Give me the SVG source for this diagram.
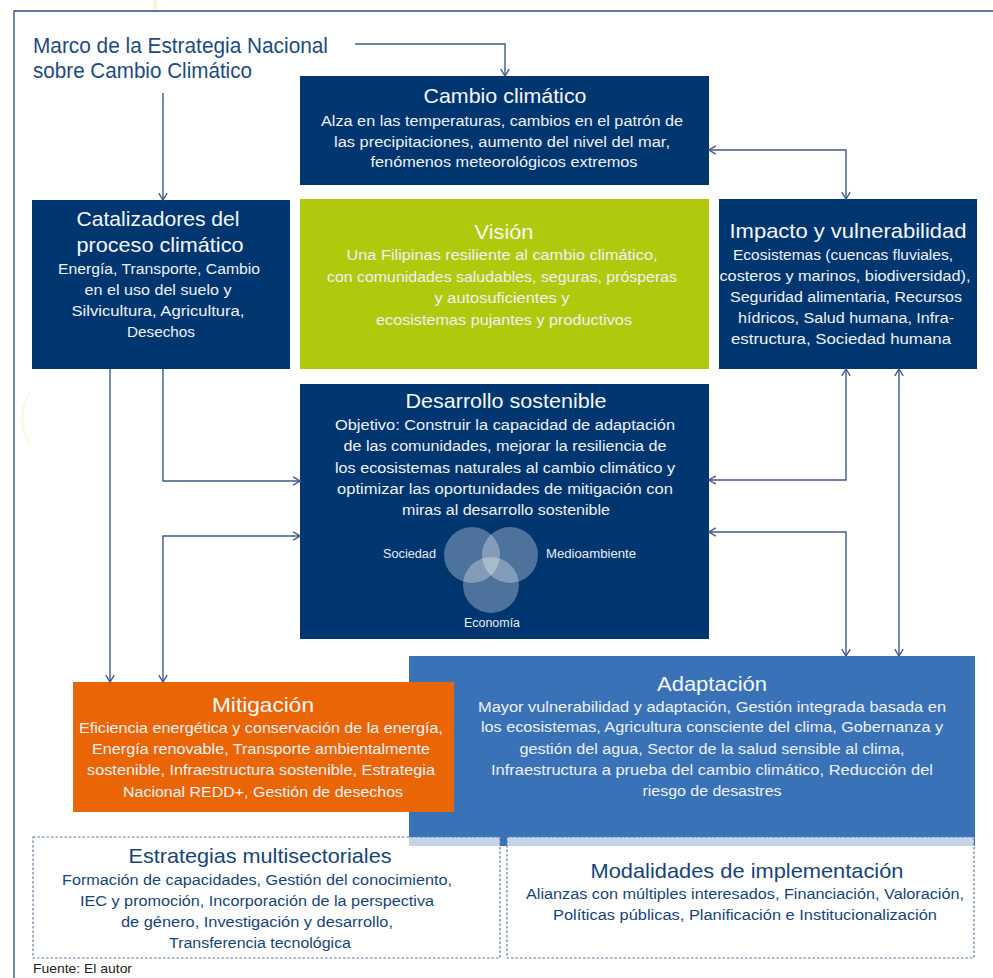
<svg xmlns="http://www.w3.org/2000/svg" width="993" height="978" viewBox="0 0 993 978">
<style>
  text { font-family: "Liberation Sans", Arial, sans-serif; }
  .ttl { font-size: 21px; fill: #f4f6f8; text-anchor: middle; }
  .bd { font-size: 15.5px; fill: #eef1f5; text-anchor: middle; }
  .dttl { font-size: 21px; fill: #174478; text-anchor: middle; }
  .dbd { font-size: 15.5px; fill: #174478; text-anchor: middle; }
  .venn { font-size: 12.5px; fill: #e8edf3; }
  .navy { fill: #003670; }
  .conn { fill: none; stroke: #40598b; stroke-width: 1.4; }
  .dash { fill: #ffffff; fill-opacity: 0.7; stroke: #5c79a6; stroke-width: 1.2; stroke-dasharray: 2.5 2; }
</style>
<defs>
  <marker id="ah" viewBox="0 0 10 10" refX="9.3" refY="5" markerWidth="10" markerHeight="10" markerUnits="userSpaceOnUse" orient="auto-start-reverse">
    <path d="M2.5,0.8 L9.3,5 L2.5,9.2" fill="none" stroke="#40598b" stroke-width="1.4"/>
  </marker>
</defs>
<rect width="993" height="978" fill="#ffffff"/>
<rect x="153" y="0" width="4" height="11" fill="#f3f6d8"/>
<path d="M30,392 Q14,418 30,444" fill="none" stroke="#f9fae8" stroke-width="3"/>
<path d="M14,978 V11 H993" fill="none" stroke="#274a7d" stroke-width="1.3"/>

<g id="title">
  <text x="33" y="53" font-size="22" fill="#1d4a80" textLength="295" lengthAdjust="spacingAndGlyphs">Marco de la Estrategia Nacional</text>
  <text x="33" y="78" font-size="22" fill="#1d4a80" textLength="219" lengthAdjust="spacingAndGlyphs">sobre Cambio Climático</text>
</g>

<g id="cambio">
  <rect class="navy" x="300" y="76" width="409" height="109"/>
  <text class="ttl" x="505" y="103" textLength="163" lengthAdjust="spacingAndGlyphs">Cambio climático</text>
  <text class="bd" x="502" y="126" textLength="362" lengthAdjust="spacingAndGlyphs">Alza en las temperaturas, cambios en el patrón de</text>
  <text class="bd" x="502" y="147" textLength="336" lengthAdjust="spacingAndGlyphs">las precipitaciones, aumento del nivel del mar,</text>
  <text class="bd" x="504" y="167" textLength="267" lengthAdjust="spacingAndGlyphs">fenómenos meteorológicos extremos</text>
</g>

<g id="catalizadores">
  <rect class="navy" x="32" y="200" width="258" height="169"/>
  <text class="ttl" x="158" y="226" textLength="163" lengthAdjust="spacingAndGlyphs">Catalizadores del</text>
  <text class="ttl" x="160" y="252" textLength="167" lengthAdjust="spacingAndGlyphs">proceso climático</text>
  <text class="bd" x="159" y="274" textLength="202" lengthAdjust="spacingAndGlyphs">Energía, Transporte, Cambio</text>
  <text class="bd" x="158" y="295" textLength="147" lengthAdjust="spacingAndGlyphs">en el uso del suelo y</text>
  <text class="bd" x="158" y="316" textLength="173" lengthAdjust="spacingAndGlyphs">Silvicultura, Agricultura,</text>
  <text class="bd" x="161" y="337" textLength="68" lengthAdjust="spacingAndGlyphs">Desechos</text>
</g>

<g id="vision">
  <rect x="300" y="199" width="409" height="170" fill="#b1c90d"/>
  <text class="ttl" x="504" y="239" textLength="59" lengthAdjust="spacingAndGlyphs">Visión</text>
  <text class="bd" x="502" y="260" textLength="311" lengthAdjust="spacingAndGlyphs">Una Filipinas resiliente al cambio climático,</text>
  <text class="bd" x="502" y="282" textLength="350" lengthAdjust="spacingAndGlyphs">con comunidades saludables, seguras, prósperas</text>
  <text class="bd" x="502" y="303" textLength="135" lengthAdjust="spacingAndGlyphs">y autosuficientes y</text>
  <text class="bd" x="504" y="325" textLength="256" lengthAdjust="spacingAndGlyphs">ecosistemas pujantes y productivos</text>
</g>

<g id="impacto">
  <rect class="navy" x="719" y="199" width="258" height="170"/>
  <text class="ttl" x="848" y="238" textLength="237" lengthAdjust="spacingAndGlyphs">Impacto y vulnerabilidad</text>
  <text class="bd" x="843" y="260" textLength="220" lengthAdjust="spacingAndGlyphs">Ecosistemas (cuencas fluviales,</text>
  <text class="bd" x="845" y="281" textLength="251" lengthAdjust="spacingAndGlyphs">costeros y marinos, biodiversidad),</text>
  <text class="bd" x="846" y="302" textLength="232" lengthAdjust="spacingAndGlyphs">Seguridad alimentaria, Recursos</text>
  <text class="bd" x="846" y="323" textLength="216" lengthAdjust="spacingAndGlyphs">hídricos, Salud humana, Infra-</text>
  <text class="bd" x="841" y="344" textLength="220" lengthAdjust="spacingAndGlyphs">estructura, Sociedad humana</text>
</g>

<g id="desarrollo">
  <rect class="navy" x="300" y="384" width="409" height="255"/>
  <text class="ttl" x="506" y="408" textLength="201" lengthAdjust="spacingAndGlyphs">Desarrollo sostenible</text>
  <text class="bd" x="505" y="430" textLength="340" lengthAdjust="spacingAndGlyphs">Objetivo: Construir la capacidad de adaptación</text>
  <text class="bd" x="505" y="451" textLength="323" lengthAdjust="spacingAndGlyphs">de las comunidades, mejorar la resiliencia de</text>
  <text class="bd" x="505" y="473" textLength="340" lengthAdjust="spacingAndGlyphs">los ecosistemas naturales al cambio climático y</text>
  <text class="bd" x="505" y="494" textLength="336" lengthAdjust="spacingAndGlyphs">optimizar las oportunidades de mitigación con</text>
  <text class="bd" x="506" y="515" textLength="208" lengthAdjust="spacingAndGlyphs">miras al desarrollo sostenible</text>
  <g fill="#ffffff" fill-opacity="0.3">
    <circle cx="472" cy="555" r="28"/>
    <circle cx="510" cy="555" r="28"/>
    <circle cx="491" cy="585" r="28"/>
  </g>
  <text class="venn" x="436" y="558" text-anchor="end" textLength="53" lengthAdjust="spacingAndGlyphs">Sociedad</text>
  <text class="venn" x="546" y="558" textLength="90" lengthAdjust="spacingAndGlyphs">Medioambiente</text>
  <text class="venn" x="492" y="627" text-anchor="middle" textLength="56" lengthAdjust="spacingAndGlyphs">Economía</text>
</g>

<g id="adaptacion">
  <rect x="409" y="656" width="566" height="190" fill="#3a72b8"/>
  <text class="ttl" x="712" y="691" textLength="110" lengthAdjust="spacingAndGlyphs">Adaptación</text>
  <text class="bd" x="712" y="712" textLength="468" lengthAdjust="spacingAndGlyphs">Mayor vulnerabilidad y adaptación, Gestión integrada basada en</text>
  <text class="bd" x="712" y="732" textLength="462" lengthAdjust="spacingAndGlyphs">los ecosistemas, Agricultura consciente del clima, Gobernanza y</text>
  <text class="bd" x="712" y="754" textLength="385" lengthAdjust="spacingAndGlyphs">gestión del agua, Sector de la salud sensible al clima,</text>
  <text class="bd" x="712" y="775" textLength="442" lengthAdjust="spacingAndGlyphs">Infraestructura a prueba del cambio climático, Reducción del</text>
  <text class="bd" x="712" y="796" textLength="139" lengthAdjust="spacingAndGlyphs">riesgo de desastres</text>
</g>

<g id="mitigacion">
  <rect x="73" y="682" width="381" height="130" fill="#e96505"/>
  <text class="ttl" x="263" y="712" textLength="102" lengthAdjust="spacingAndGlyphs">Mitigación</text>
  <text class="bd" x="261" y="733" textLength="364" lengthAdjust="spacingAndGlyphs">Eficiencia energética y conservación de la energía,</text>
  <text class="bd" x="261" y="754" textLength="338" lengthAdjust="spacingAndGlyphs">Energía renovable, Transporte ambientalmente</text>
  <text class="bd" x="261" y="775" textLength="348" lengthAdjust="spacingAndGlyphs">sostenible, Infraestructura sostenible, Estrategia</text>
  <text class="bd" x="263" y="797" textLength="280" lengthAdjust="spacingAndGlyphs">Nacional REDD+, Gestión de desechos</text>
</g>

<g id="estrategias">
  <rect class="dash" x="33" y="837" width="467" height="121"/>
  <text class="dttl" x="260" y="863" textLength="263" lengthAdjust="spacingAndGlyphs">Estrategias multisectoriales</text>
  <text class="dbd" x="257" y="885" textLength="390" lengthAdjust="spacingAndGlyphs">Formación de capacidades, Gestión del conocimiento,</text>
  <text class="dbd" x="257" y="906" textLength="354" lengthAdjust="spacingAndGlyphs">IEC y promoción, Incorporación de la perspectiva</text>
  <text class="dbd" x="257" y="927" textLength="272" lengthAdjust="spacingAndGlyphs">de género, Investigación y desarrollo,</text>
  <text class="dbd" x="260" y="948" textLength="182" lengthAdjust="spacingAndGlyphs">Transferencia tecnológica</text>
</g>

<g id="modalidades">
  <rect class="dash" x="507" y="837" width="467" height="121"/>
  <text class="dttl" x="747" y="878" textLength="313" lengthAdjust="spacingAndGlyphs">Modalidades de implementación</text>
  <text class="dbd" x="745" y="899" textLength="438" lengthAdjust="spacingAndGlyphs">Alianzas con múltiples interesados, Financiación, Valoración,</text>
  <text class="dbd" x="745" y="920" textLength="384" lengthAdjust="spacingAndGlyphs">Políticas públicas, Planificación e Institucionalización</text>
</g>

<g id="connectors">
  <path class="conn" d="M355,44 H505 V76" marker-end="url(#ah)"/>
  <path class="conn" d="M163,93 V200" marker-end="url(#ah)"/>
  <path class="conn" d="M709,150 H846 V199" marker-start="url(#ah)" marker-end="url(#ah)"/>
  <path class="conn" d="M110,369 V682" marker-end="url(#ah)"/>
  <path class="conn" d="M163,369 V481 H300" marker-end="url(#ah)"/>
  <path class="conn" d="M300,536 H163 V682" marker-start="url(#ah)" marker-end="url(#ah)"/>
  <path class="conn" d="M846,369 V480 H709" marker-start="url(#ah)" marker-end="url(#ah)"/>
  <path class="conn" d="M709,532 H846 V656" marker-start="url(#ah)" marker-end="url(#ah)"/>
  <path class="conn" d="M899,369 V656" marker-start="url(#ah)" marker-end="url(#ah)"/>
</g>

<text x="33" y="973" font-size="13" fill="#222222" textLength="99" lengthAdjust="spacingAndGlyphs">Fuente: El autor</text>
</svg>
